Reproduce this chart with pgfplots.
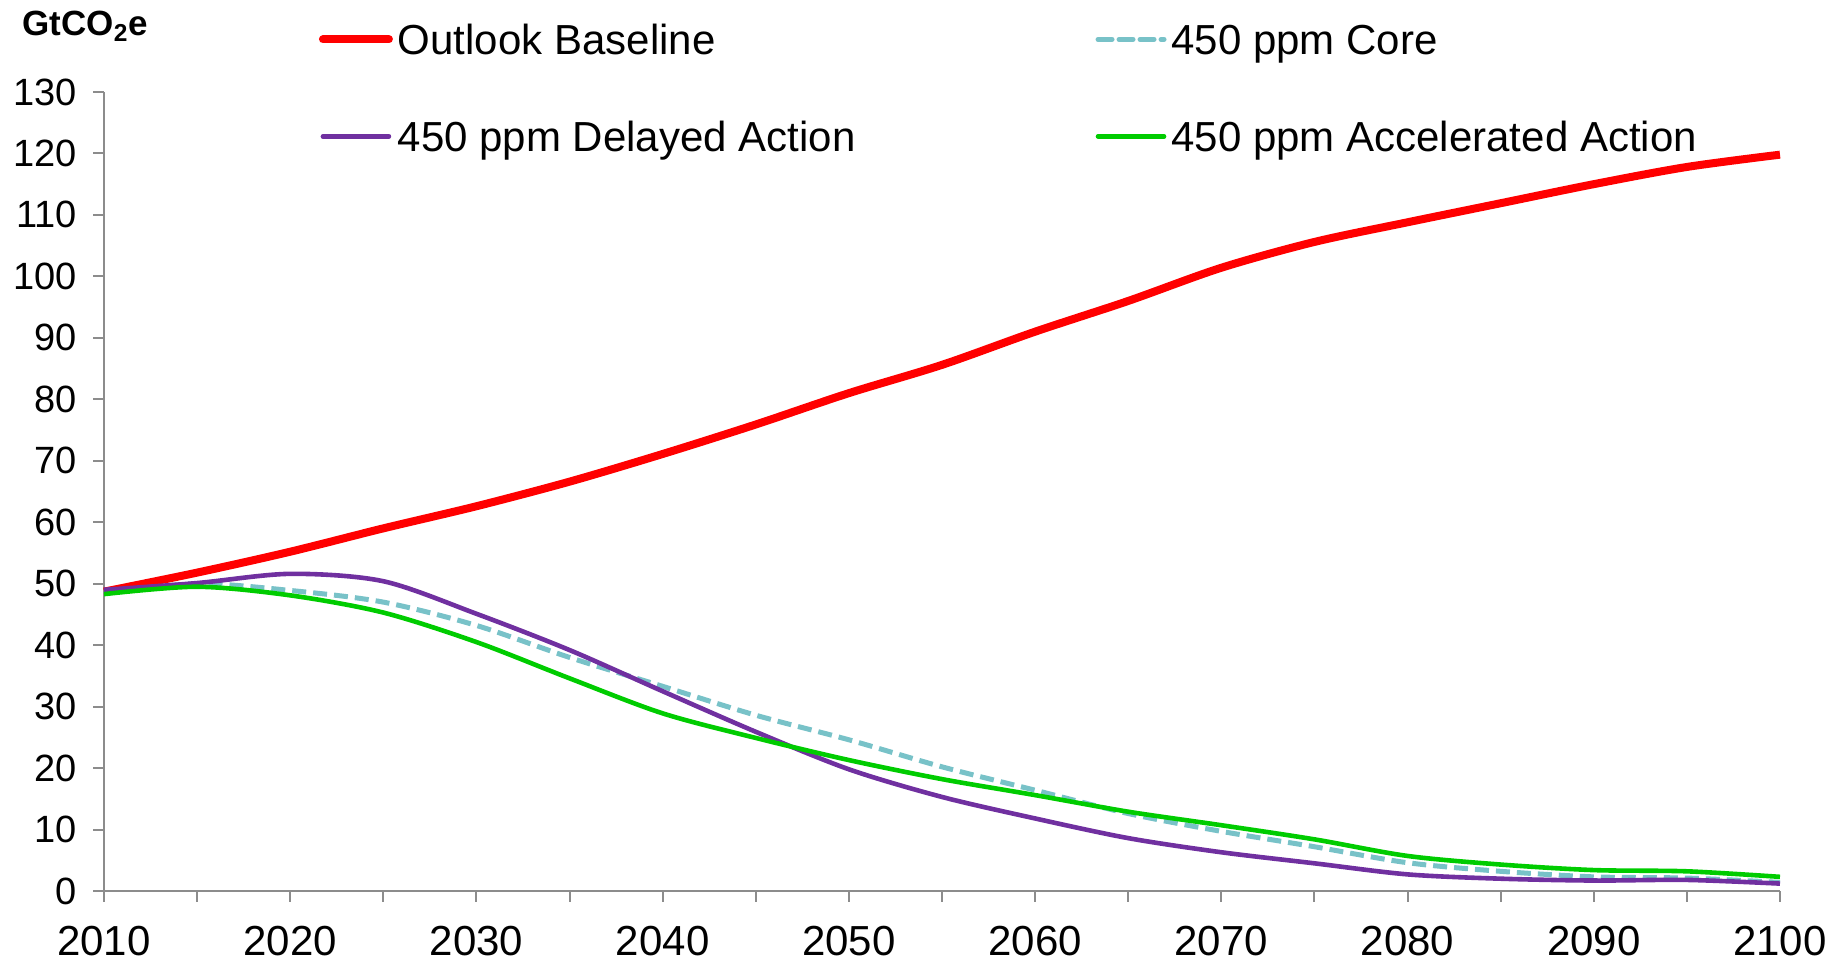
\documentclass[border=0pt]{standalone}
\usepackage{fontspec}
\setmainfont{Liberation Sans}
\usepackage{pgfplots}
\pgfplotsset{compat=1.18}
\definecolor{colBase}{HTML}{FF0000}
\definecolor{colCore}{HTML}{78C2C8}
\definecolor{colDelayed}{HTML}{7030A0}
\definecolor{colAccel}{HTML}{00CC00}
\definecolor{axisgray}{HTML}{8C8C8C}

\begin{document}
\begin{tikzpicture}
\useasboundingbox (-52pt,-35pt) rectangle (864.5pt,445.5pt);
\begin{axis}[
  scale only axis, width=838pt, height=399.5pt,
  xmin=2010, xmax=2100, ymin=0, ymax=130,
  axis x line*=bottom, axis y line*=left,
  axis line style={draw=axisgray, line width=1pt},
  tick style={draw=axisgray, line width=1pt},
  tick align=outside,
  major tick length=5.5pt, minor tick length=5.5pt,
  xtick={2010,2020,...,2100}, minor x tick num=1,
  ytick={0,10,...,130},
  /pgf/number format/assume math mode=true,
  /pgf/number format/set thousands separator={},
  xticklabel style={font=\fontsize{21}{24}\selectfont, yshift=-8.5pt},
  yticklabel style={font=\fontsize{19}{22}\selectfont, xshift=-4.5pt},
  legend columns=2, legend cell align=left,
  legend style={draw=none, fill=none, inner sep=0pt,
    at={(0.1280,1.0901)}, anchor=north west,
    nodes={inner sep=0pt, text height=17pt, text depth=2pt,
      font=\fontsize{21}{24}\selectfont},
    row sep=29.5pt,
    /tikz/every odd column/.append style={column sep=2.5pt},
    /tikz/every even column/.append style={column sep=120pt}},
  legend image code/.code={\draw[#1, line cap=round] plot coordinates {(0pt,0pt) (33pt,0pt)};},
  clip=false,
  every axis plot/.append style={smooth, tension=0.5, no markers},
]
% Outlook Baseline
\addplot[colBase, line width=4pt] coordinates {
(2010,48.7) (2015,51.8) (2020,55.2) (2025,59.0) (2030,62.6) (2035,66.6)
(2040,71.1) (2045,75.9) (2050,81.0) (2055,85.6) (2060,91.0) (2065,96.0)
(2070,101.4) (2075,105.6) (2080,108.8) (2085,111.9) (2090,115.0) (2095,117.8) (2100,119.8)};
% 450 ppm Core
\addplot[colCore, line width=2.5pt, dash pattern=on 7pt off 3.5pt] coordinates {
(2010,48.5) (2015,50.0) (2020,48.9) (2025,47.0) (2030,43.2) (2035,38.0)
(2040,33.3) (2045,28.6) (2050,24.6) (2055,20.2) (2060,16.4) (2065,12.6)
(2070,9.7) (2075,7.2) (2080,4.6) (2085,3.2) (2090,2.3) (2095,2.1) (2100,1.4)};
% 450 ppm Delayed Action
\addplot[colDelayed, line width=2.3pt] coordinates {
(2010,49.0) (2015,50.1) (2020,51.6) (2025,50.4) (2030,45.1) (2035,39.2)
(2040,32.5) (2045,25.9) (2050,19.8) (2055,15.3) (2060,11.8) (2065,8.6)
(2070,6.3) (2075,4.5) (2080,2.7) (2085,2.0) (2090,1.7) (2095,1.8) (2100,1.2)};
% 450 ppm Accelerated Action
\addplot[colAccel, line width=2.3pt] coordinates {
(2010,48.3) (2015,49.5) (2020,48.1) (2025,45.3) (2030,40.5) (2035,34.6)
(2040,28.9) (2045,24.9) (2050,21.3) (2055,18.2) (2060,15.6) (2065,12.9)
(2070,10.7) (2075,8.4) (2080,5.7) (2085,4.3) (2090,3.4) (2095,3.2) (2100,2.3)};
\legend{Outlook Baseline, 450 ppm Core, 450 ppm Delayed Action, 450 ppm Accelerated Action}
\node[anchor=base west, inner sep=0pt, font=\bfseries\fontsize{17.5}{20}\selectfont]
  at ([xshift=-41pt,yshift=28pt]axis description cs:0,1) {GtCO\textsubscript{2}e};
\end{axis}
\end{tikzpicture}
\end{document}
